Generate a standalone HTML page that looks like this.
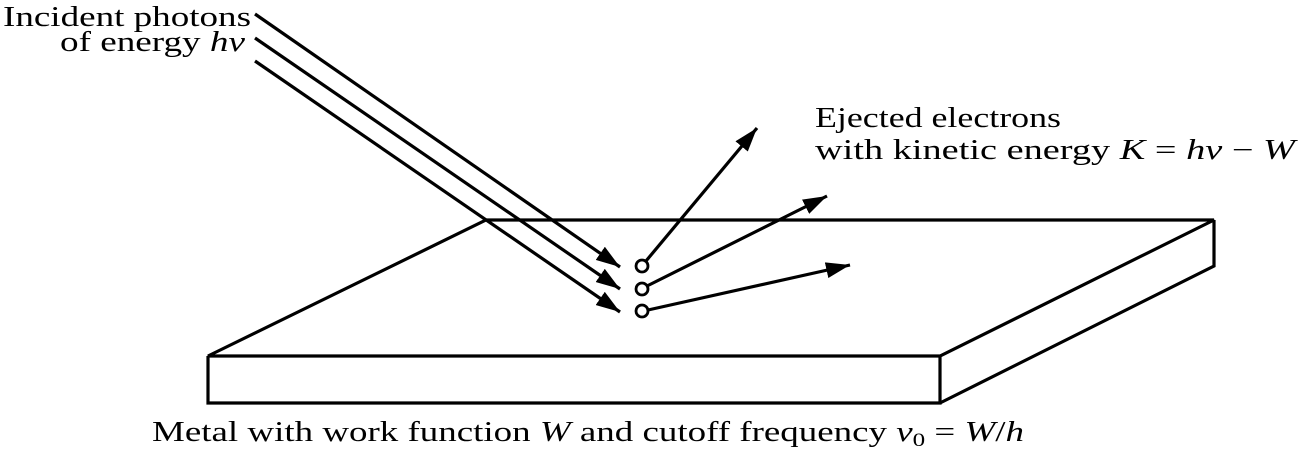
<!DOCTYPE html>
<html><head><meta charset="utf-8"><style>
html,body{margin:0;padding:0;background:#fff;}
svg{display:block;}
text{font-family:"Liberation Serif","DejaVu Serif",serif;font-size:28px;fill:#000;}
</style></head><body>
<svg width="1301" height="461" viewBox="0 0 1301 461" xmlns="http://www.w3.org/2000/svg">
<defs>
<marker id="a" viewBox="0 0 24 16" refX="24" refY="8" markerWidth="24" markerHeight="16" markerUnits="userSpaceOnUse" orient="auto">
<path d="M0,0 L24,8 L0,16 Z" fill="#000"/>
</marker>
</defs>
<g fill="none" stroke="#000" stroke-width="3.2" stroke-linejoin="miter">
<polygon points="208,356 486,220 1214,220 940,356"/>
<polyline points="208,356 208,403 940,403 940,356"/>
<polyline points="940,403 1214,266 1214,220"/>
<line x1="255" y1="14" x2="620" y2="267" marker-end="url(#a)"/>
<line x1="255" y1="38" x2="620" y2="289" marker-end="url(#a)"/>
<line x1="255" y1="61" x2="620" y2="312" marker-end="url(#a)"/>
<circle cx="642" cy="266" r="6" stroke-width="2.8"/>
<circle cx="642" cy="289" r="6" stroke-width="2.8"/>
<circle cx="642" cy="311" r="6" stroke-width="2.8"/>
<line x1="646" y1="261" x2="757" y2="128" marker-end="url(#a)"/>
<line x1="647" y1="286" x2="827" y2="196" marker-end="url(#a)"/>
<line x1="648" y1="310" x2="850" y2="265" marker-end="url(#a)"/>
</g>
<text x="3" y="26" textLength="248" lengthAdjust="spacingAndGlyphs">Incident photons</text>
<text x="60" y="51" textLength="185" lengthAdjust="spacingAndGlyphs">of energy <tspan font-style="italic">hν</tspan></text>
<text x="815" y="127" textLength="246" lengthAdjust="spacingAndGlyphs">Ejected electrons</text>
<text x="815" y="159" textLength="480" lengthAdjust="spacingAndGlyphs">with kinetic energy <tspan font-style="italic">K</tspan> = <tspan font-style="italic">hν</tspan> − <tspan font-style="italic">W</tspan></text>
<text x="152" y="441" textLength="872" lengthAdjust="spacingAndGlyphs">Metal with work function <tspan font-style="italic">W</tspan> and cutoff frequency <tspan font-style="italic">ν</tspan><tspan font-size="19" dy="5">0</tspan><tspan dy="-5"> = </tspan><tspan font-style="italic">W</tspan>/<tspan font-style="italic">h</tspan></text>
</svg>
</body></html>
